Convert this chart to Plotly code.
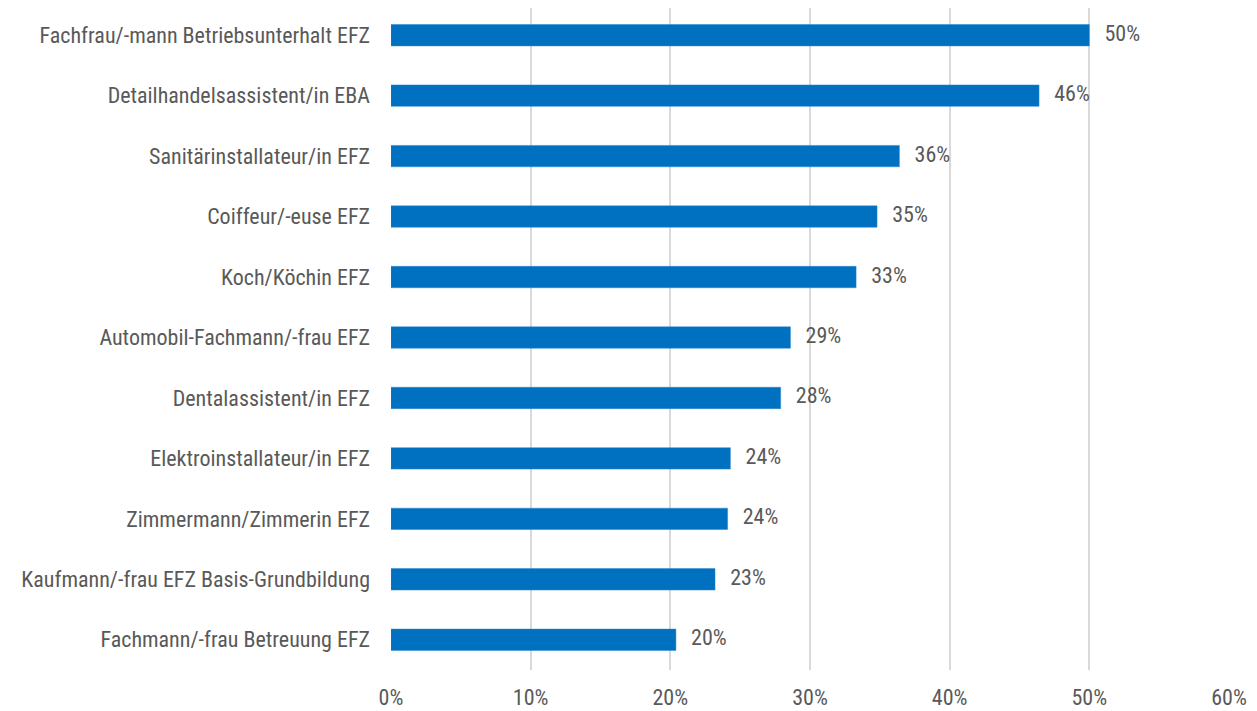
import plotly.graph_objects as go

# Berufe (von oben nach unten)
berufe = [
    "Fachfrau/-mann Betriebsunterhalt EFZ",
    "Detailhandelsassistent/in EBA",
    "Sanitärinstallateur/in EFZ",
    "Coiffeur/-euse EFZ",
    "Koch/Köchin EFZ",
    "Automobil-Fachmann/-frau EFZ",
    "Dentalassistent/in EFZ",
    "Elektroinstallateur/in EFZ",
    "Zimmermann/Zimmerin EFZ",
    "Kaufmann/-frau EFZ Basis-Grundbildung",
    "Fachmann/-frau Betreuung EFZ",
]
anteil = [0.500, 0.464, 0.364, 0.348, 0.333, 0.286, 0.279, 0.243, 0.241, 0.232, 0.204]

x_ticks = [0, 0.1, 0.2, 0.3, 0.4, 0.5, 0.6]

schrift = "Roboto Condensed, Liberation Sans Narrow, Arial Narrow, sans-serif"
grau = "#595959"

fig = go.Figure()

# Balken
fig.add_trace(
    go.Bar(
        x=anteil,
        y=berufe,
        orientation="h",
        width=0.354,
        marker=dict(color="#0070C0", line=dict(color="#2E86D0", width=0.5)),
    )
)

# Datenbeschriftungen rechts neben den Balken
fig.add_trace(
    go.Scatter(
        x=anteil,
        y=berufe,
        mode="text",
        text=[f"   {v:.0%}" for v in anteil],
        textposition="middle right",
        textfont=dict(family=schrift, size=22, color=grau),
        cliponaxis=False,
        hoverinfo="skip",
    )
)

# Seite hat 8px Rand, daher Figur etwas kleiner
fig.update_layout(
    width=1249,
    height=703,
    margin=dict(l=383, r=28, t=0, b=41),
    plot_bgcolor="white",
    paper_bgcolor="white",
    showlegend=False,
    font=dict(family=schrift, size=22, color=grau),
)

fig.update_xaxes(
    range=[0, 0.6],
    tickvals=x_ticks,
    tickformat=".0%",
    showgrid=True,
    gridcolor="#D9D9D9",
    gridwidth=1.5,
    zeroline=False,
    showline=False,
    ticks="",
    ticklabelstandoff=12,
    automargin=False,
)

fig.update_yaxes(
    range=[10.5, -0.45],
    showgrid=False,
    showline=False,
    ticks="",
    ticklabelstandoff=20,
    automargin=False,
)

fig.write_html("out.html")
